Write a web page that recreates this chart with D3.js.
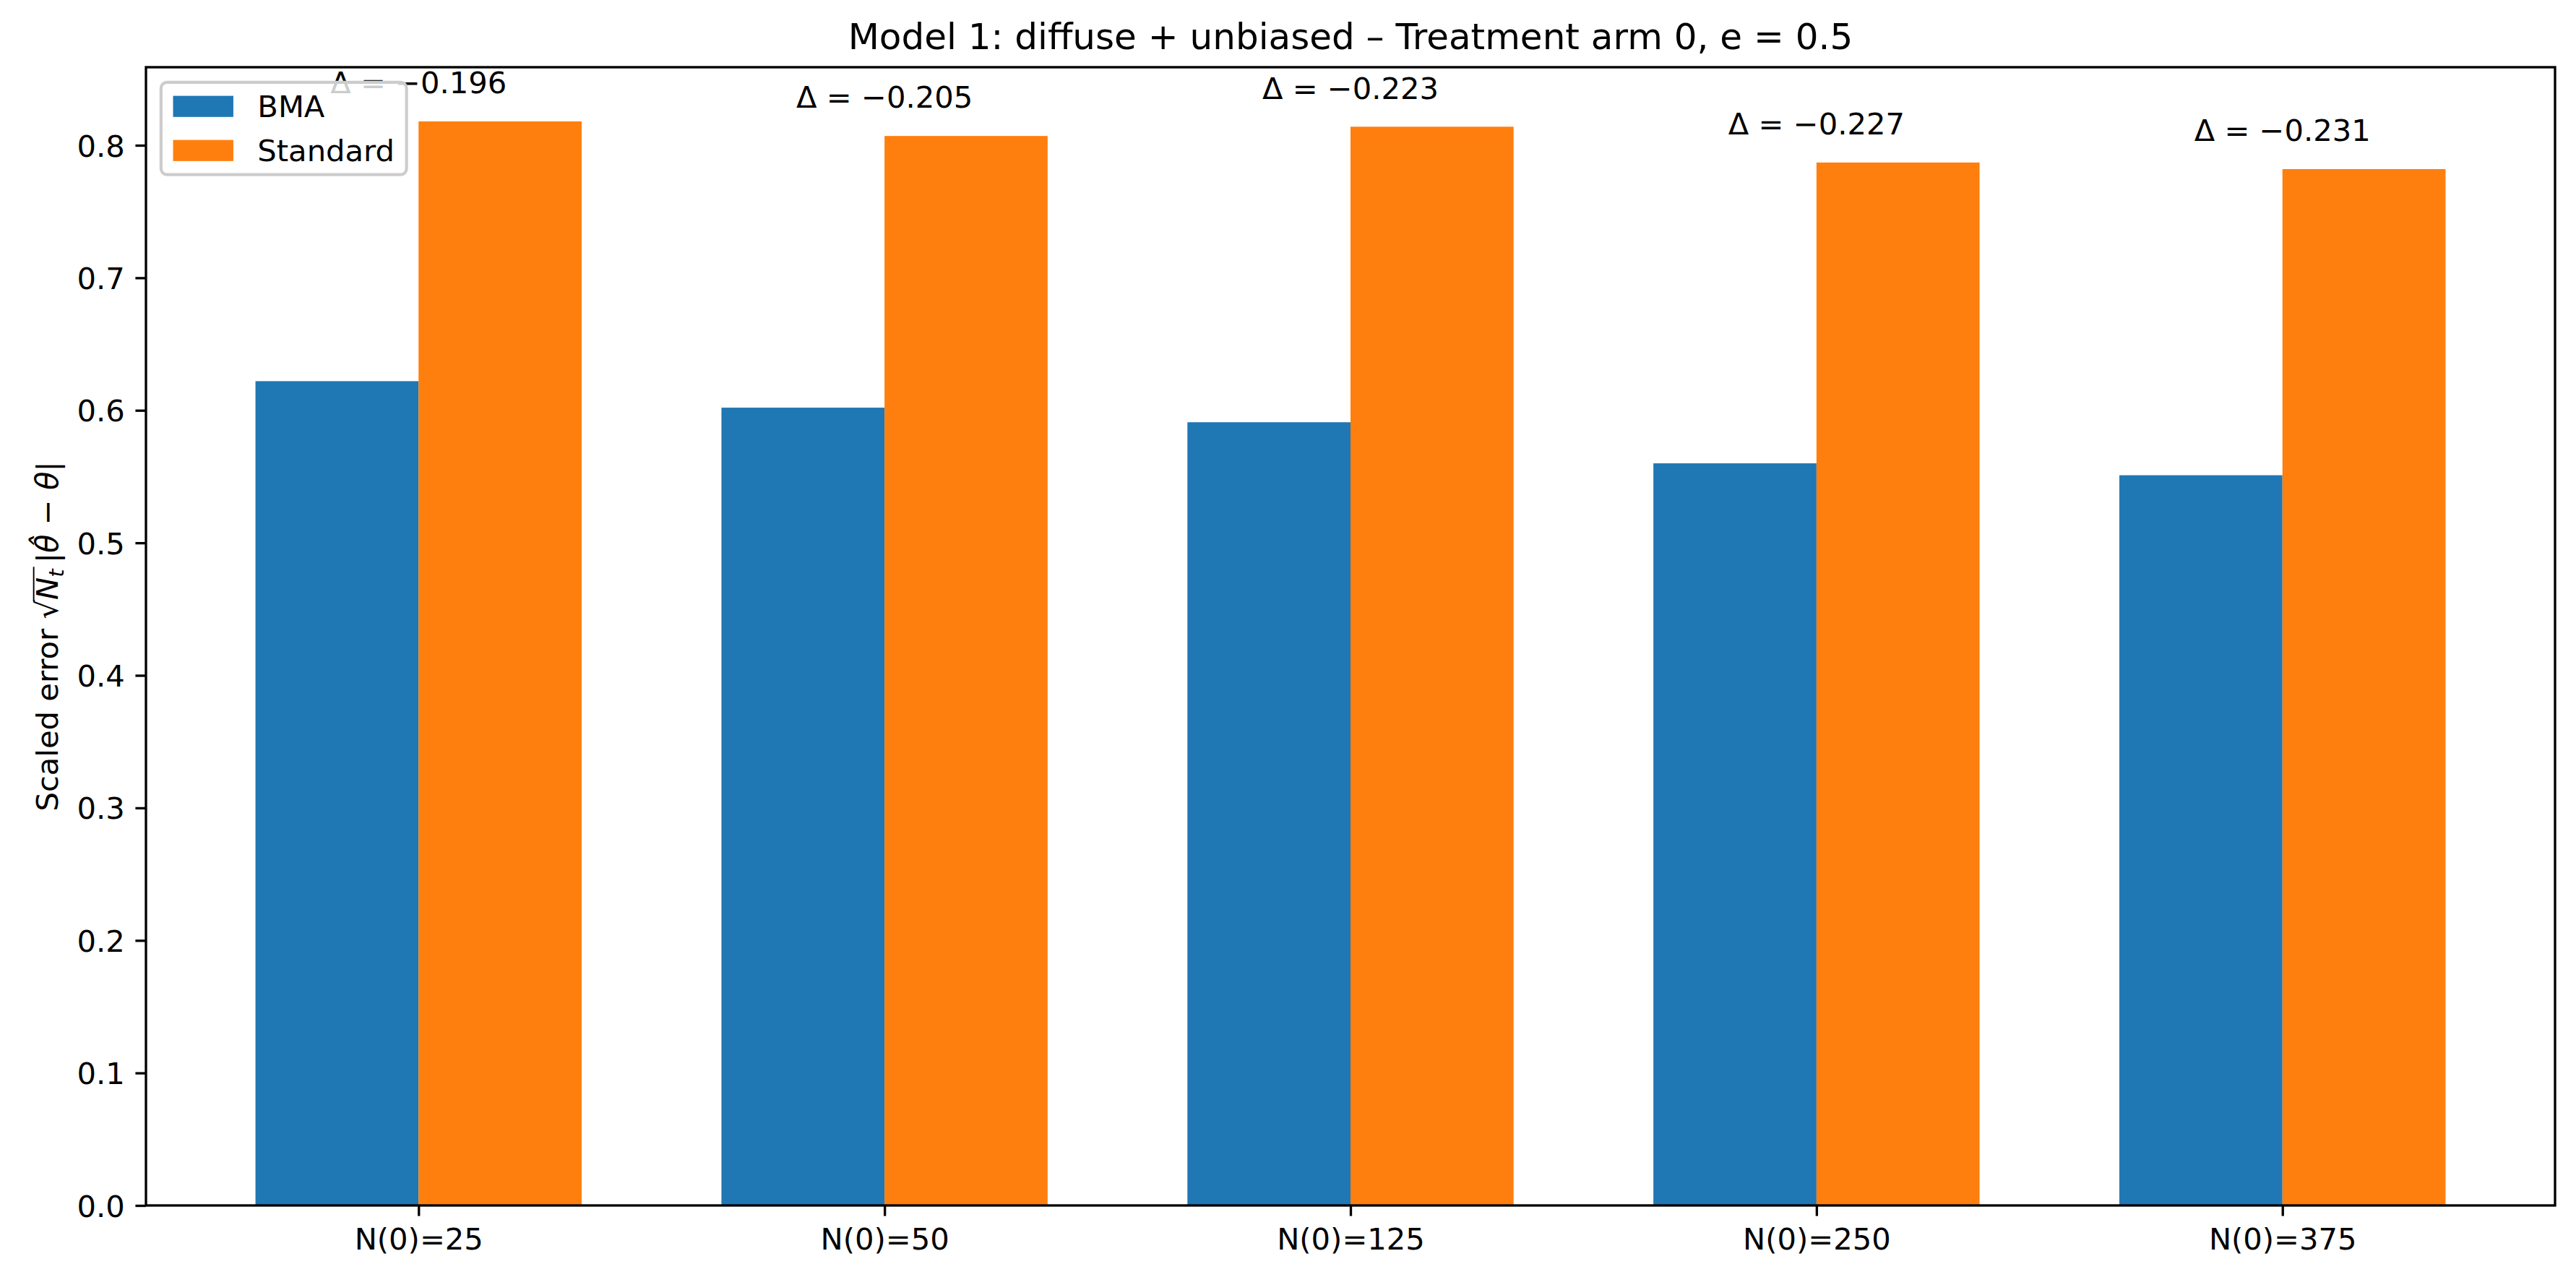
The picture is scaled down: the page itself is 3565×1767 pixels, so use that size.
<!DOCTYPE html>
<html>
<head>
<meta charset="utf-8">
<script src="https://cdn.jsdelivr.net/npm/d3@7"></script>
<style>
  body { margin: 0; background: #fff; }
  text { font-family: "DejaVu Sans", sans-serif; }
</style>
</head>
<body>
<div id="chart"></div>
<script>
// data
const categories = ["N(0)=25", "N(0)=50", "N(0)=125", "N(0)=250", "N(0)=375"];
const bmaValues = [0.622, 0.602, 0.591, 0.560, 0.551];
const standardValues = [0.818, 0.807, 0.814, 0.787, 0.782];
const deltas = [-0.196, -0.205, -0.223, -0.227, -0.231];
const seriesNames = ["BMA", "Standard"];
const seriesColors = ["#1f77b4", "#ff7f0e"];
const yTicks = [0, 0.1, 0.2, 0.3, 0.4, 0.5, 0.6, 0.7, 0.8];
const title = "Model 1: diffuse + unbiased \u2013 Treatment arm 0, e = 0.5";

const W = 3565, H = 1767;
const margin = {top: 93, right: 29, bottom: 99, left: 202};
const width = W - margin.left - margin.right,
      height = H - margin.top - margin.bottom;
const fs = 41.7;          // 10pt at 300 dpi
const pt = 300 / 72;
const barW = 0.35;

const svg = d3.select("#chart").append("svg")
    .attr("width", W)
    .attr("height", H);

const g = svg.append("g")
    .attr("transform", "translate(" + margin.left + "," + margin.top + ")");

// scales (matplotlib style 5% margins on x, 5% headroom on y)
const n = categories.length;
const xMin = -barW, xMax = n - 1 + barW, xPad = (xMax - xMin) * 0.05;
const x = d3.scaleLinear()
    .domain([xMin - xPad, xMax + xPad])
    .range([0, width]);
const yMax = d3.max(bmaValues.concat(standardValues)) * 1.05;
const y = d3.scaleLinear()
    .domain([0, yMax])
    .range([height, 0]);

// bars
const groups = g.selectAll(".grp")
    .data(categories.map((c, i) => ({c: c, i: i, bma: bmaValues[i], std: standardValues[i], d: deltas[i]})))
    .enter().append("g");

groups.append("rect")
    .attr("x", (d) => x(d.i - barW))
    .attr("width", (d) => x(d.i) - x(d.i - barW))
    .attr("y", (d) => y(d.bma))
    .attr("height", (d) => height - y(d.bma))
    .attr("fill", seriesColors[0]);

groups.append("rect")
    .attr("x", (d) => x(d.i))
    .attr("width", (d) => x(d.i + barW) - x(d.i))
    .attr("y", (d) => y(d.std))
    .attr("height", (d) => height - y(d.std))
    .attr("fill", seriesColors[1]);

// delta annotations
const fmt = d3.format(".3f");
groups.append("text")
    .attr("x", (d) => x(d.i))
    .attr("y", (d) => y(d.std + 0.02) - 2)
    .attr("text-anchor", "middle")
    .attr("font-size", fs)
    .text((d) => "\u0394 = \u2212" + fmt(Math.abs(d.d)));

// axes
const yAxis = g.append("g")
    .call(d3.axisLeft(y).tickValues(yTicks).tickFormat(d3.format(".1f"))
        .tickSize(3.5 * pt).tickPadding(3.5 * pt));
const xAxis = g.append("g")
    .attr("transform", "translate(0," + height + ")")
    .call(d3.axisBottom(x).tickValues(d3.range(n)).tickFormat((i) => categories[i])
        .tickSize(3.5 * pt).tickPadding(3.5 * pt));

[yAxis, xAxis].forEach((a) => {
    a.select(".domain").remove();
    a.selectAll("line").attr("stroke", "#000").attr("stroke-width", 0.8 * pt);
    a.selectAll("text").attr("font-size", fs).attr("fill", "#000")
        .attr("font-family", "DejaVu Sans");
});
yAxis.selectAll("text").attr("dy", "0.36em");
xAxis.selectAll("text").attr("dy", "0.76em");

// frame
g.append("rect")
    .attr("width", width)
    .attr("height", height)
    .attr("fill", "none")
    .attr("stroke", "#000")
    .attr("stroke-width", 0.8 * pt);

// title
svg.append("text")
    .attr("x", margin.left + width / 2)
    .attr("y", margin.top - 6 * pt)
    .attr("text-anchor", "middle")
    .attr("font-size", 12 * pt)
    .text(title);

// y label with sqrt(N_t) |theta_hat - theta|
const yl = svg.append("g")
    .attr("transform", "translate(80," + (margin.top + height / 2) + ") rotate(-90)");
const ylt = yl.append("text")
    .attr("text-anchor", "middle")
    .attr("font-size", fs);
ylt.append("tspan").text("Scaled error ");
ylt.append("tspan").text("\u221A");
ylt.append("tspan").attr("font-style", "italic").text("N");
ylt.append("tspan").attr("font-style", "italic").attr("font-size", fs * 0.7).attr("dy", fs * 0.2).text("t");
ylt.append("tspan").attr("dy", -fs * 0.2).text("\u2009|");
ylt.append("tspan").attr("font-style", "italic").text("\u03B8\u0302");
ylt.append("tspan").text(" \u2212 ");
ylt.append("tspan").attr("font-style", "italic").text("\u03B8");
ylt.append("tspan").text("|");

// overline of the radical, from end of the sqrt glyph to end of subscript
const node = ylt.node();
const rootBox = node.getExtentOfChar(13);
const endBox = node.getExtentOfChar(15);
yl.append("line")
    .attr("x1", rootBox.x + rootBox.width - 2)
    .attr("x2", endBox.x + endBox.width + 3)
    .attr("y1", -fs * 0.80)
    .attr("y2", -fs * 0.80)
    .attr("stroke", "#000")
    .attr("stroke-width", fs * 0.045);

// legend (upper left)
const lg = g.append("g")
    .attr("transform", "translate(" + (0.5 * fs) + "," + (0.5 * fs) + ")");
const entries = lg.selectAll(".entry")
    .data(seriesNames)
    .enter().append("g")
    .attr("transform", (d, i) => "translate(" + (0.4 * fs) + "," + (0.4 * fs + i * 1.2 * fs * 1.22) + ")");
const box = lg.insert("rect", ":first-child")
    .attr("rx", 0.2 * fs)
    .attr("fill", "#fff")
    .attr("fill-opacity", 0.8)
    .attr("stroke", "#cccccc")
    .attr("stroke-width", 1 * pt);
entries.append("rect")
    .attr("y", 0.05 * fs)
    .attr("width", 2 * fs)
    .attr("height", 0.7 * fs)
    .attr("fill", (d, i) => seriesColors[i]);
entries.append("text")
    .attr("x", 2.8 * fs)
    .attr("y", 0.4 * fs)
    .attr("dy", "0.36em")
    .attr("font-size", fs)
    .text((d) => d);
let maxW = 0;
entries.selectAll("text").each(function () { maxW = Math.max(maxW, this.getComputedTextLength()); });
box.attr("width", 0.4 * fs + 2.8 * fs + maxW + 0.4 * fs)
    .attr("height", 0.4 * fs * 2 + 0.8 * fs + 1.2 * fs * 1.22);
</script>
</body>
</html>
